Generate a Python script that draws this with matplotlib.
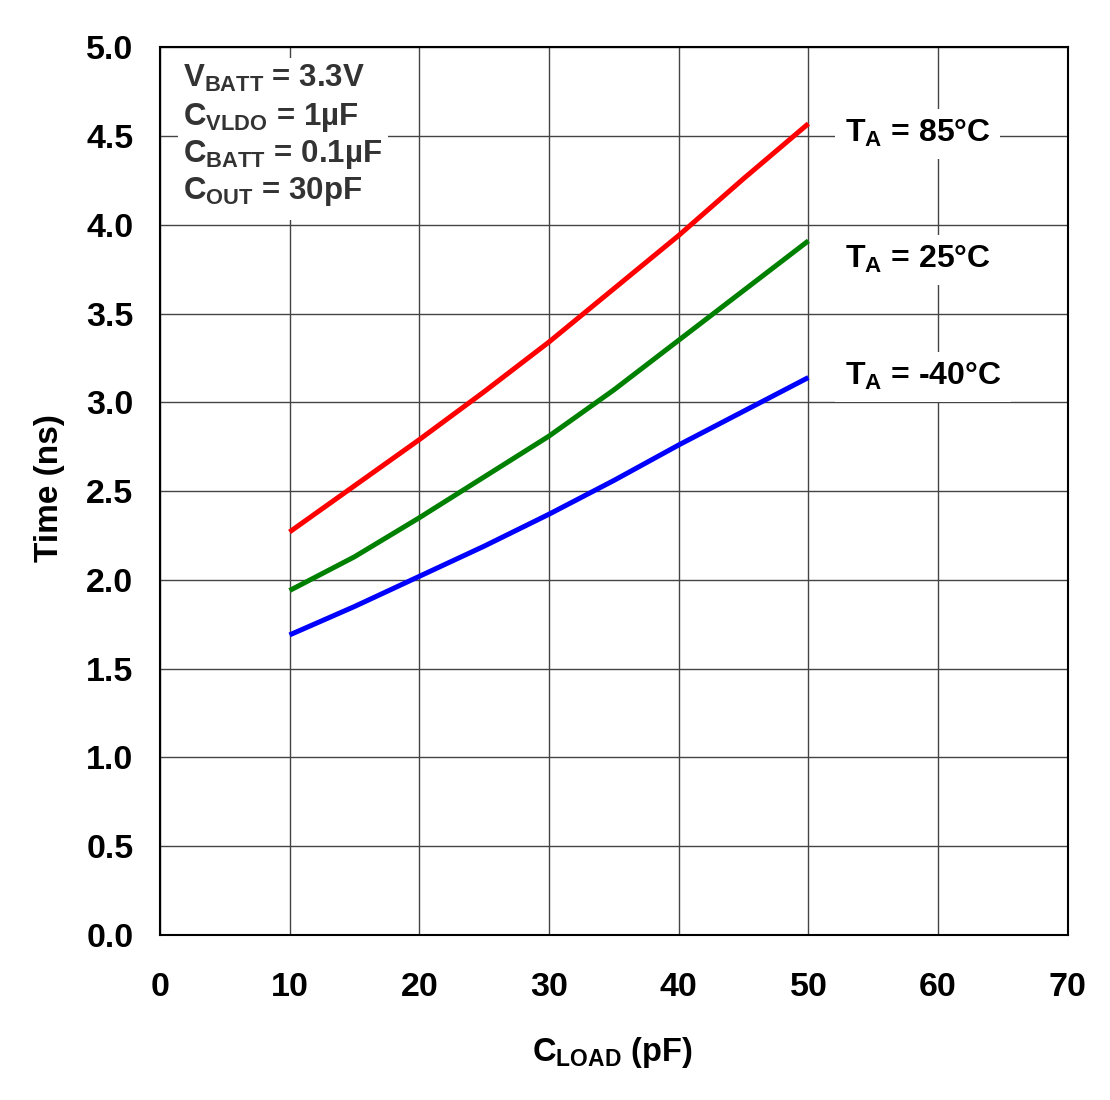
import matplotlib
matplotlib.use("Agg")
import matplotlib.pyplot as plt
from matplotlib.patches import Rectangle

plt.rcParams["font.family"] = ["Liberation Sans", "DejaVu Sans"]
plt.rcParams["font.weight"] = "bold"
plt.rcParams["mathtext.fontset"] = "custom"
plt.rcParams["mathtext.rm"] = "Liberation Sans:bold"
plt.rcParams["mathtext.it"] = "Liberation Sans:bold"
plt.rcParams["mathtext.bf"] = "Liberation Sans:bold"
plt.rcParams["mathtext.default"] = "rm"

# C_LOAD (pF)
cload = [10, 15, 20, 25, 30, 35, 40, 45, 50]
t_85 = [2.27, 2.53, 2.79, 3.06, 3.34, 3.64, 3.94, 4.26, 4.57]
t_25 = [1.94, 2.13, 2.35, 2.58, 2.81, 3.07, 3.35, 3.63, 3.91]
t_m40 = [1.69, 1.85, 2.02, 2.19, 2.37, 2.56, 2.76, 2.95, 3.14]

series = [
    (t_85, "#ff0000", r"T$_{A}$ = 85°C", 4.465),
    (t_25, "#008000", r"T$_{A}$ = 25°C", 3.756),
    (t_m40, "#0000ff", r"T$_{A}$ = -40°C", 3.097),
]

conditions = [
    r"V$_{BATT}$ = 3.3V",
    r"C$_{VLDO}$ = 1µF",
    r"C$_{BATT}$ = 0.1µF",
    r"C$_{OUT}$ = 30pF",
]

x_ticks = [0, 10, 20, 30, 40, 50, 60, 70]
y_ticks = [0.0, 0.5, 1.0, 1.5, 2.0, 2.5, 3.0, 3.5, 4.0, 4.5, 5.0]

fig = plt.figure(figsize=(11.1, 11), dpi=100)
ax = fig.add_axes([0.144, 0.15, 0.818, 0.807])

for vals, color, label, ylab in series:
    ax.plot(cload, vals, color=color, lw=3.6, solid_capstyle="butt", zorder=3)
    ax.text(52.8, ylab, label, fontsize=23, color="black", va="baseline",
            ha="left", zorder=4,
            bbox=dict(facecolor="white", edgecolor="none", pad=7))

ax.set_xlim(0, 70)
ax.set_ylim(0, 5)
ax.set_xticks(x_ticks)
ax.set_yticks(y_ticks)
ax.set_xticklabels([str(v) for v in x_ticks])
ax.set_yticklabels([f"{v:.1f}" for v in y_ticks])
ax.tick_params(length=0, labelsize=24.5)
ax.tick_params(axis="x", pad=27)
ax.tick_params(axis="y", pad=19)
ax.grid(True, color="#444444", lw=1.0, zorder=1)
ax.set_axisbelow(True)
for sp in ax.spines.values():
    sp.set_linewidth(1.5)
    sp.set_color("black")

# condition box
ax.add_patch(Rectangle((0.02, 0.805), 0.231, 0.183, transform=ax.transAxes,
                       facecolor="white", edgecolor="none", zorder=2))
for i, line in enumerate(conditions):
    ax.text(0.0253, 0.955 - i * 0.042, line, transform=ax.transAxes,
            fontsize=22.5, color="#333333", va="baseline", ha="left", zorder=4)

fig.text(0.045, 0.556, "Time (ns)", fontsize=24, fontweight="bold",
         rotation=90, ha="center", va="center")
fig.text(0.552, 0.043, r"C$_{LOAD}$ (pF)", fontsize=23.5, ha="center",
         va="center")

fig.savefig("out.png", dpi=100)
